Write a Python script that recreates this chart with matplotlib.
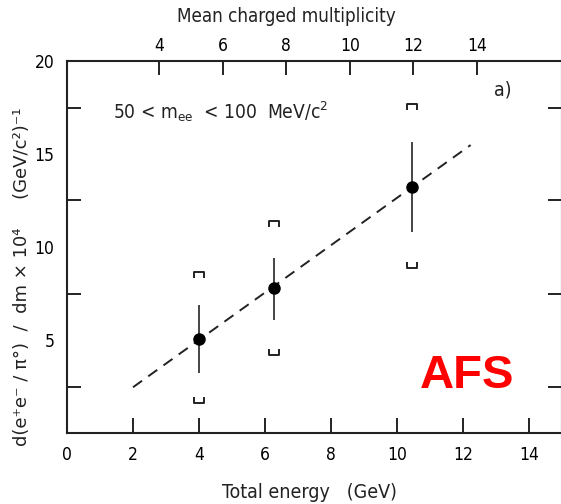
import matplotlib
matplotlib.use("Agg")
import matplotlib.pyplot as plt
from matplotlib.path import Path
from matplotlib.ticker import FixedLocator
import numpy as np

plt.rcParams["font.family"] = ["DejaVu Sans"]
plt.rcParams["font.stretch"] = "condensed"
plt.rcParams["lines.scale_dashes"] = False

# Measured points: total energy (GeV) vs differential ratio
energy = [4.0, 6.27, 10.46]
ratio = [5.07, 7.78, 13.24]
stat_hi = [6.9, 9.39, 15.66]
stat_lo = [3.24, 6.1, 10.82]
syst_hi = [8.5, 11.24, 17.54]
syst_lo = [1.77, 4.37, 9.03]

# Linear trend line
fit_energy = [2.0, 12.23]
fit_ratio = [2.46, 15.48]

# Axis ticks
x_ticks = [0, 2, 4, 6, 8, 10, 12, 14]
y_ticks = [5, 10, 15, 20]
y_minor = [2.5, 5, 7.5, 10, 12.5, 15, 17.5]
mult_ticks = [4, 6, 8, 10, 12, 14]

# Mean charged multiplicity as a linear function of total energy
mult_a, mult_b = -1.06, 0.963


def mult_to_energy(m):
    return mult_a + mult_b * np.asarray(m, dtype=float)


def energy_to_mult(e):
    return (np.asarray(e, dtype=float) - mult_a) / mult_b


ink = "#222222"
fig = plt.figure(figsize=(5.61, 5.04), dpi=100)
ax = fig.add_axes([67 / 561, 71 / 504, 495 / 561, 372 / 504])
ax.set_xlim(0, 15)
ax.set_ylim(0, 20)

for s in ax.spines.values():
    s.set_linewidth(1.5)
    s.set_color(ink)

# bracket markers for systematic limits
cap_up = Path([(-1, -0.6), (-1, 0.6), (1, 0.6), (1, -0.6)],
              [Path.MOVETO, Path.LINETO, Path.LINETO, Path.LINETO])
cap_dn = Path([(-1, 0.6), (-1, -0.6), (1, -0.6), (1, 0.6)],
              [Path.MOVETO, Path.LINETO, Path.LINETO, Path.LINETO])

ax.plot(fit_energy, fit_ratio, color=ink, lw=1.4, dashes=(8, 5.5))
ax.vlines(energy, stat_lo, stat_hi, color="#444444", lw=1.4)
ax.plot(energy, ratio, "o", color="black", ms=8)
ax.plot(energy, syst_hi, linestyle="none", marker=cap_up, ms=7.2,
        mfc="none", mec=ink, mew=1.4)
ax.plot(energy, syst_lo, linestyle="none", marker=cap_dn, ms=7.2,
        mfc="none", mec=ink, mew=1.4)

tick_fs = 12.5
ax.set_xticks(x_ticks)
ax.set_yticks(y_ticks)
ax.yaxis.set_minor_locator(FixedLocator(y_minor))
ax.tick_params(axis="x", which="both", direction="in", length=11, width=1.4,
               color=ink, labelsize=tick_fs, pad=9, top=False)
ax.tick_params(axis="y", which="minor", direction="in", length=10, width=1.4,
               color=ink, left=True, right=True)
ax.tick_params(axis="y", which="major", length=0, labelsize=tick_fs, pad=9)

top = ax.secondary_xaxis("top", functions=(energy_to_mult, mult_to_energy))
top.set_xticks(mult_ticks)
top.tick_params(direction="in", length=10, width=1.4, color=ink,
                labelsize=tick_fs, pad=4)
top.spines["top"].set_visible(False)

fig.text(309 / 561, 1 - 492 / 504, "Total energy   (GeV)", ha="center",
         va="center", fontsize=14, color=ink)
fig.text(286 / 561, 1 - 17 / 504, "Mean charged multiplicity", ha="center",
         va="center", fontsize=13.5, color=ink)
fig.text(22 / 561, 1 - 277 / 504,
         "d(e\u207ae\u207b / \u03c0\u00b0)  /  dm \u00d7 10\u2074     (GeV/c\u00b2)\u207b\u00b9",
         rotation=90, ha="center", va="center", fontsize=13,
         fontstretch="normal", color=ink)

fig.text(113 / 561, 1 - 112 / 504,
         r"50 < m$_{\rm ee}$  < 100  MeV/c$^2$", ha="left", va="center",
         fontsize=13.8, color=ink)
fig.text(503 / 561, 1 - 90 / 504, "a)", ha="center", va="center",
         fontsize=14, color=ink)
fig.text(467 / 561, 1 - 376 / 504, "AFS", ha="center", va="center",
         fontsize=34, fontweight="bold", color="#ff0000",
         family="Liberation Sans")

fig.savefig("out.png", dpi=100)
